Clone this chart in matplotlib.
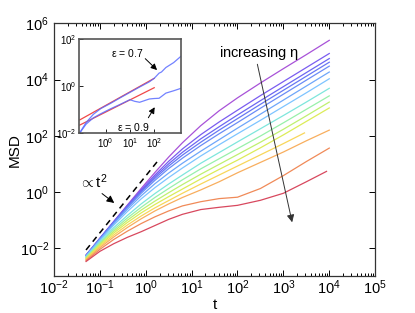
import numpy as np
import matplotlib
matplotlib.use('Agg')
import matplotlib.pyplot as plt

plt.rcParams['font.family'] = ['Liberation Sans', 'DejaVu Sans']
plt.rcParams['mathtext.fontset'] = 'custom'
plt.rcParams['mathtext.rm'] = 'Liberation Sans'
plt.rcParams['mathtext.it'] = 'Liberation Sans:italic'

# log10(t) sampling points, last point of each curve is given in t_end
log_t = [-1.3, -1.0, -0.7, -0.4, -0.1, 0.2, 0.5, 0.8, 1.2, 1.6, 2.0, 2.5, 3.0, 3.5]
t_end = [4.0, 4.0, 4.0, 4.0, 4.0, 4.0, 4.0, 4.0, 4.0, 4.0, 4.0, 3.46, 4.0, 4.0, 3.94]

# log10(MSD), top curve (smallest eta) first
msd_1 = [-2.25, -1.65, -1.06, -0.47, 0.12, 0.69, 1.24, 1.75, 2.36, 2.89, 3.35, 3.88, 4.39, 4.89, 5.40]
msd_2 = [-2.26, -1.66, -1.07, -0.49, 0.07, 0.60, 1.09, 1.53, 2.04, 2.49, 2.91, 3.43, 3.93, 4.43, 4.93]
msd_3 = [-2.26, -1.67, -1.08, -0.51, 0.03, 0.54, 1.00, 1.41, 1.89, 2.32, 2.74, 3.25, 3.75, 4.25, 4.75]
msd_4 = [-2.26, -1.67, -1.09, -0.53, 0.00, 0.48, 0.92, 1.31, 1.77, 2.20, 2.61, 3.12, 3.62, 4.12, 4.62]
msd_5 = [-2.27, -1.68, -1.11, -0.56, -0.05, 0.41, 0.83, 1.20, 1.65, 2.07, 2.47, 2.98, 3.48, 3.98, 4.48]
msd_6 = [-2.28, -1.70, -1.14, -0.62, -0.14, 0.29, 0.67, 1.02, 1.45, 1.86, 2.27, 2.77, 3.27, 3.77, 4.27]
msd_7 = [-2.29, -1.73, -1.19, -0.70, -0.25, 0.15, 0.51, 0.85, 1.28, 1.68, 2.07, 2.55, 3.04, 3.53, 4.03]
msd_8 = [-2.32, -1.78, -1.28, -0.84, -0.43, -0.06, 0.28, 0.60, 1.02, 1.40, 1.78, 2.25, 2.72, 3.20, 3.69]
msd_9 = [-2.34, -1.82, -1.35, -0.93, -0.55, -0.20, 0.12, 0.43, 0.82, 1.18, 1.54, 1.99, 2.46, 2.94, 3.42]
msd_10 = [-2.36, -1.86, -1.41, -1.01, -0.65, -0.33, -0.03, 0.26, 0.63, 0.98, 1.33, 1.77, 2.23, 2.71, 3.20]
msd_11 = [-2.38, -1.90, -1.47, -1.09, -0.75, -0.45, -0.17, 0.10, 0.46, 0.80, 1.13, 1.57, 2.03, 2.51, 2.99]
msd_12 = [-2.40, -1.94, -1.54, -1.18, -0.86, -0.57, -0.31, -0.05, 0.28, 0.60, 0.92, 1.32, 1.72, 2.10]
msd_13 = [-2.42, -1.99, -1.61, -1.27, -0.96, -0.68, -0.43, -0.20, 0.07, 0.36, 0.68, 1.05, 1.42, 1.82, 2.20]
msd_14 = [-2.45, -2.05, -1.70, -1.40, -1.13, -0.89, -0.68, -0.50, -0.35, -0.24, -0.19, 0.12, 0.58, 1.08, 1.56]
msd_15 = [-2.48, -2.12, -1.85, -1.62, -1.42, -1.20, -0.98, -0.80, -0.63, -0.55, -0.48, -0.30, -0.05, 0.36, 0.73]
curves = [msd_1, msd_2, msd_3, msd_4, msd_5, msd_6, msd_7, msd_8, msd_9, msd_10,
          msd_11, msd_12, msd_13, msd_14, msd_15]

colors = ['#a852d8', '#7a5cf0', '#6c66f2', '#6677f4', '#6a8cf6', '#6ea6fa', '#7ec4ff',
          '#7ee6dc', '#98f0aa', '#bff070', '#dcec58', '#f8d65a', '#f8ae5e', '#f08a58', '#d8485e']

# guide line ~ t^2
guide_t = [0.05, 1.83]
guide_msd = [0.0085, 12.6]

# inset data: log10 t, log10 MSD
in_t_07 = [-1.08, -0.8, -0.5, -0.2, 0.2, 0.6, 1.0, 1.4, 1.8, 2.0, 2.2, 2.3, 2.48, 2.8, 3.09]
in_m_07 = [-2.02, -1.55, -1.2, -0.96, -0.74, -0.5, -0.27, -0.04, 0.18, 0.33, 0.55, 0.6, 0.79, 1.0, 1.26]
in_t_09 = [-1.08, -0.8, -0.5, -0.2, 0.2, 0.6, 1.0, 1.2, 1.4, 1.6, 1.8, 2.0, 2.2, 2.48, 2.8, 3.09]
in_m_09 = [-2.02, -1.62, -1.35, -1.18, -0.97, -0.78, -0.58, -0.65, -0.69, -0.62, -0.55, -0.53, -0.52, -0.30, -0.2, -0.1]
fit_t = [-1.06, 2.0]
fit_07 = [-1.44, 0.33]
fit_09 = [-1.66, -0.07]

fig = plt.figure(figsize=(4.15, 3.13), dpi=100)
ax = fig.add_axes([0.130, 0.118, 0.774, 0.807])

for vals, te, c in zip(curves, t_end, colors):
    lt = log_t[:len(vals) - 1] + [te]
    ax.plot(10.0 ** np.array(lt), 10.0 ** np.array(vals), color=c, lw=0.9)

ax.plot(guide_t, guide_msd, 'k--', lw=1.1, dashes=(4, 3))

ax.set_xscale('log')
ax.set_yscale('log')
ax.set_xlim(1e-2, 1e5)
ax.set_ylim(1e-3, 1e6)
ax.set_xticks([10.0 ** k for k in range(-2, 6)])
ax.set_yticks([10.0 ** k for k in range(-2, 7, 2)])
ax.yaxis.set_minor_locator(matplotlib.ticker.NullLocator())
ax.tick_params(which='both', direction='in', top=True, right=True, labelsize=10.5, width=0.7)
ax.tick_params(which='major', length=4)
ax.tick_params(which='minor', length=2)
ax.tick_params(axis='x', pad=2)
for s in ax.spines.values():
    s.set_color('#333333')
    s.set_linewidth(0.9)
ax.set_xlabel('t', fontsize=11)
ax.set_ylabel('MSD', fontsize=11)
ax.xaxis.set_label_coords(0.5, -0.085)
ax.yaxis.set_label_coords(-0.1, 0.5)

arrow = dict(arrowstyle='-|>', color='black', lw=0.7, mutation_scale=11)
ax.annotate('', xy=(0.23, 0.35), xytext=(0.1, 1.0), arrowprops=arrow)
ax.text(0.036, 10 ** 0.36, r'$\propto$t$^2$', fontsize=11, ha='left', va='center')
ax.annotate('', xy=(1600, 0.066), xytext=(263, 4.4e4),
            arrowprops=dict(arrowstyle='-|>', color='#333333', lw=0.7, mutation_scale=11))
ax.text(10 ** 2.46, 10 ** 4.95, r'increasing $\mathregular{\eta}$', fontsize=10.5, ha='center', va='center')

# inset
ins = fig.add_axes([0.190, 0.575, 0.246, 0.300])
ins.plot(10.0 ** np.array(fit_t), 10.0 ** np.array(fit_07), color='#f04848', lw=0.9)
ins.plot(10.0 ** np.array(fit_t), 10.0 ** np.array(fit_09), color='#f04848', lw=0.9)
ins.plot(10.0 ** np.array(in_t_07), 10.0 ** np.array(in_m_07), color='#5a6cff', lw=0.9, alpha=0.85)
ins.plot(10.0 ** np.array(in_t_09), 10.0 ** np.array(in_m_09), color='#5a6cff', lw=0.9, alpha=0.85)
ins.set_xscale('log')
ins.set_yscale('log')
ins.set_xlim(10 ** -1.1, 10 ** 3.1)
ins.set_ylim(1e-2, 1e2)
ins.set_xticks([1, 10, 100])
ins.set_yticks([1e-2, 1, 1e2])
ins.xaxis.set_minor_locator(matplotlib.ticker.NullLocator())
ins.yaxis.set_minor_locator(matplotlib.ticker.NullLocator())
ins.tick_params(direction='in', length=3, labelsize=7, pad=2, width=0.6)
for s in ins.spines.values():
    s.set_color('#555555')
    s.set_linewidth(1.2)
small_arrow = dict(arrowstyle='-|>', color='black', lw=0.7, mutation_scale=9)
ins.annotate('', xy=(10 ** 2.2, 10 ** 0.6), xytext=(10 ** 1.55, 10 ** 1.25), arrowprops=small_arrow)
ins.text(10 ** 0.9, 10 ** 1.4, r'$\mathregular{\epsilon}$ = 0.7', fontsize=7.5, ha='center', va='center')
ins.annotate('', xy=(10 ** 2.08, 10 ** -0.8), xytext=(10 ** 1.7, 10 ** -1.45), arrowprops=small_arrow)
ins.text(10 ** 1.15, 10 ** -1.75, r'$\mathregular{\epsilon}$ = 0.9', fontsize=7.5, ha='center', va='center')

fig.savefig('out.png', dpi=100)
